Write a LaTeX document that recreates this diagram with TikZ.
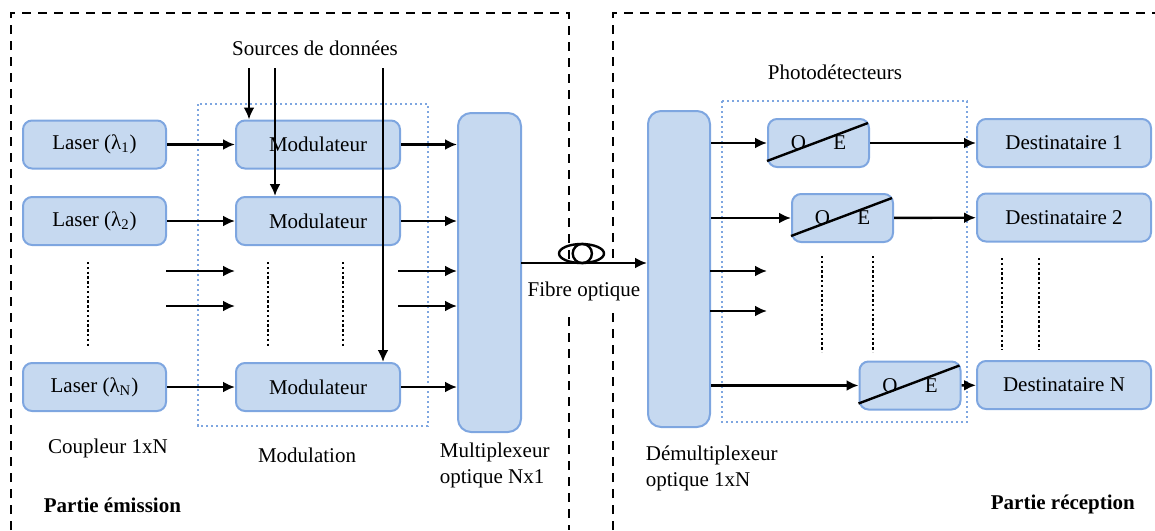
\documentclass[tikz,border=0pt]{standalone}
\usepackage{fontspec}
\setmainfont{Liberation Serif}
\usepackage{tikz}
\usetikzlibrary{positioning, calc}
\usetikzlibrary{arrows, arrows.meta}
\tikzset{>={Latex[length=6pt,width=5.5pt]}}
\definecolor{boxblue}{RGB}{198,217,240}
\definecolor{edgeblue}{RGB}{126,166,224}

\begin{document}
\begin{tikzpicture}[x=0.5pt,y=-0.5pt,line width=1.2pt,font=\fontsize{10.5}{12.6}\selectfont]
  \tikzstyle{box}=[rectangle,rounded corners=4.5pt,draw=edgeblue,fill=boxblue,line width=1pt,inner sep=0pt,minimum height=24pt]
  \tikzstyle{laser}=[box,minimum width=71.5pt]
  \tikzstyle{modbox}=[box,minimum width=82pt]
  \tikzstyle{oebox}=[box,minimum width=50.5pt]
  \tikzstyle{destbox}=[box,minimum width=87pt]
  \tikzstyle{muxbox}=[box,rounded corners=6.5pt,minimum width=31.5pt]
  \tikzstyle{frame}=[line width=1.4pt,dash pattern=on 4.5pt off 3.5pt]
  \tikzstyle{group}=[draw=edgeblue,line width=1.3pt,dash pattern=on 1.2pt off 1.3pt]
  \tikzstyle{vdots}=[line width=1.3pt,dash pattern=on 1.2pt off 1.2pt]

  \useasboundingbox (0,0) rectangle (1155,530);

  % frames
  \draw[frame] (11,530) -- (11,13) -- (569,13) -- (569,263);
  \draw[frame] (569,317) -- (569,530);
  \draw[frame] (613,530) -- (613,313);
  \draw[frame] (613,258) -- (613,13) -- (1155,13);
  \draw[group] (198,104) rectangle (428,426);
  \draw[group] (722,101) rectangle (967,422);

  % emission
  \node[laser] (l1) at (94.5,144.5) {Laser (λ\textsubscript{1})};
  \node[laser] (l2) at (94.5,221) {Laser (λ\textsubscript{2})};
  \node[laser] (lN) at (94.5,387) {Laser (λ\textsubscript{N})};
  \node[modbox] (m1) [right=34pt of l1] {Modulateur};
  \node[modbox] (m2) [right=34pt of l2] {Modulateur};
  \node[modbox] (mN) [right=34pt of lN] {Modulateur};
  \node[muxbox,minimum height=159.5pt] (mux) at (489.5,272.5) {};

  \node (src) at (315,48) {Sources de données};
  \coordinate (s1) at (249,68);
  \coordinate (s2) at (275,68);
  \coordinate (s3) at (383,68);
  \coordinate (e1) at (166,271);
  \coordinate (e2) at (166,306);
  \coordinate (x1) at (398,271);
  \coordinate (x2) at (398,306);

  \draw[->] (l1) -- (m1);
  \draw[->] (l2) -- (m2);
  \draw[->] (lN) -- (mN);
  \draw[->] (e1) -- (e1 -| m1.west);
  \draw[->] (e2) -- (e2 -| m1.west);
  \draw[->] (m1) -- (m1 -| mux.west);
  \draw[->] (m2) -- (m2 -| mux.west);
  \draw[->] (mN) -- (mN -| mux.west);
  \draw[->] (x1) -- (x1 -| mux.west);
  \draw[->] (x2) -- (x2 -| mux.west);
  \draw[->] (s1) -- (s1 |- m1.north);
  \draw[->] (s2) -- (s2 |- m2.north);
  \draw[->] (s3) -- (s3 |- mN.north);

  \draw[vdots] (88,262) -- (88,348);
  \draw[vdots] (268,262) -- (268,348);
  \draw[vdots] (343,262) -- (343,348);

  \node (coupl) at (108,448) {Coupleur 1xN};
  \node (modl) at (307,455) {Modulation};
  \node[align=left,anchor=west] (muxl) at (432,465.5) {Multiplexeur\\optique Nx1};
  \node[anchor=west,font=\fontsize{10.5}{12.6}\selectfont\bfseries] (emi) at (36,505) {Partie émission};

  % fibre
  \node[muxbox,minimum width=31pt,minimum height=158pt] (demux) at (679,269) {};
  \coordinate (f0) at (521,263);
  \draw[->] (f0) -- (f0 -| demux.west);
  \draw (581.5,253.5) ellipse (22.5 and 9.5);
  \draw (582.3,253.5) circle (9.6);
  \node (fib) at (584,291) {Fibre optique};

  % reception
  \node (phl) at (835,72) {Photodétecteurs};
  \node[oebox] (oe1) at (818.5,143) {O\hspace{1.3em}E};
  \node[oebox] (oe2) at (842.5,218) {O\hspace{1.3em}E};
  \node[oebox] (oeN) at (910,385.5) {O\hspace{1.3em}E};
  \foreach \n in {oe1,oe2,oeN}
    \draw ([yshift=3.5pt]\n.south west) -- ([xshift=-1pt,yshift=-2.5pt]\n.north east);
  \node[destbox] (d1) at (1064,143) {Destinataire 1};
  \node[destbox] (d2) at (1064,217.5) {Destinataire 2};
  \node[destbox] (dN) at (1064,385) {Destinataire N};

  \coordinate (r1) at (710,271);
  \coordinate (r2) at (710,311);
  \draw[->] (demux.east |- oe1) -- (oe1);
  \draw[->] (demux.east |- oe2) -- (oe2);
  \draw[->] (demux.east |- oeN) -- (oeN);
  \draw[->] (r1) -- (r1 -| oe1.west);
  \draw[->] (r2) -- (r2 -| oe1.west);
  \draw[->] (oe1) -- (d1);
  \draw[->] (oe2) -- (d2);
  \draw[->] (oeN) -- (dN);

  \draw[vdots] (822,256) -- (822,352);
  \draw[vdots] (873,256) -- (873,352);
  \draw[vdots] (1002,258) -- (1002,350);
  \draw[vdots] (1039,258) -- (1039,350);

  \node[align=left,anchor=west] (demuxl) at (638,468.5) {Démultiplexeur\\optique 1xN};
  \node[anchor=west,font=\fontsize{10.5}{12.6}\selectfont\bfseries] (rec) at (983,504) {Partie réception};
\end{tikzpicture}
\end{document}
